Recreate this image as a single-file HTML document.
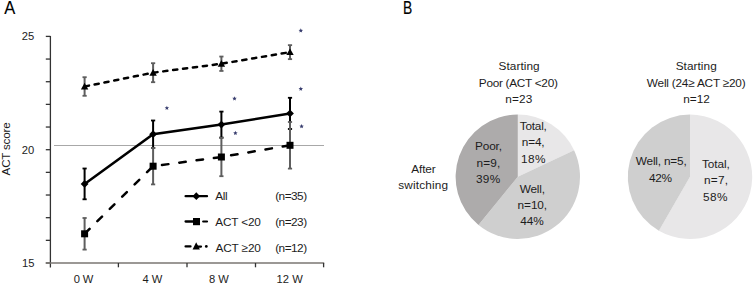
<!DOCTYPE html>
<html><head><meta charset="utf-8"><style>
html,body{margin:0;padding:0;background:#fff;}
svg{display:block;font-family:"Liberation Sans",sans-serif;}
</style></head><body>
<svg width="753" height="285" viewBox="0 0 753 285">
<rect width="753" height="285" fill="#fff"/>
<line x1="50.4" y1="36" x2="50.4" y2="267.5" stroke="#333" stroke-width="1.3"/>
<line x1="45.8" y1="36.40" x2="50.4" y2="36.40" stroke="#333" stroke-width="1.3"/>
<line x1="45.8" y1="59.06" x2="50.4" y2="59.06" stroke="#333" stroke-width="1.3"/>
<line x1="45.8" y1="81.72" x2="50.4" y2="81.72" stroke="#333" stroke-width="1.3"/>
<line x1="45.8" y1="104.38" x2="50.4" y2="104.38" stroke="#333" stroke-width="1.3"/>
<line x1="45.8" y1="127.04" x2="50.4" y2="127.04" stroke="#333" stroke-width="1.3"/>
<line x1="45.8" y1="149.70" x2="50.4" y2="149.70" stroke="#333" stroke-width="1.3"/>
<line x1="45.8" y1="172.36" x2="50.4" y2="172.36" stroke="#333" stroke-width="1.3"/>
<line x1="45.8" y1="195.02" x2="50.4" y2="195.02" stroke="#333" stroke-width="1.3"/>
<line x1="45.8" y1="217.68" x2="50.4" y2="217.68" stroke="#333" stroke-width="1.3"/>
<line x1="45.8" y1="240.34" x2="50.4" y2="240.34" stroke="#333" stroke-width="1.3"/>
<line x1="45.8" y1="263.00" x2="50.4" y2="263.00" stroke="#333" stroke-width="1.3"/>
<line x1="45.8" y1="263" x2="324.2" y2="263" stroke="#7a7672" stroke-width="1.5"/>
<line x1="118.4" y1="263" x2="118.4" y2="267.3" stroke="#333" stroke-width="1.3"/>
<line x1="187.0" y1="263" x2="187.0" y2="267.3" stroke="#333" stroke-width="1.3"/>
<line x1="255.5" y1="263" x2="255.5" y2="267.3" stroke="#333" stroke-width="1.3"/>
<line x1="323.6" y1="263" x2="323.6" y2="267.3" stroke="#333" stroke-width="1.3"/>
<line x1="54" y1="145.5" x2="324" y2="145.5" stroke="#a8a8a8" stroke-width="1.2"/>
<line x1="84.6" y1="168.5" x2="84.6" y2="199.3" stroke="#000" stroke-width="2.0"/><line x1="82.5" y1="168.5" x2="86.69999999999999" y2="168.5" stroke="#000" stroke-width="1.8"/><line x1="82.5" y1="199.3" x2="86.69999999999999" y2="199.3" stroke="#000" stroke-width="1.8"/>
<line x1="153.1" y1="120.49999999999999" x2="153.1" y2="147.89999999999998" stroke="#000" stroke-width="2.0"/><line x1="151.0" y1="120.49999999999999" x2="155.2" y2="120.49999999999999" stroke="#000" stroke-width="1.8"/><line x1="151.0" y1="147.89999999999998" x2="155.2" y2="147.89999999999998" stroke="#000" stroke-width="1.8"/>
<line x1="221.4" y1="111.6" x2="221.4" y2="137.6" stroke="#000" stroke-width="2.0"/><line x1="219.3" y1="111.6" x2="223.5" y2="111.6" stroke="#000" stroke-width="1.8"/><line x1="219.3" y1="137.6" x2="223.5" y2="137.6" stroke="#000" stroke-width="1.8"/>
<line x1="290.0" y1="97.80000000000001" x2="290.0" y2="129.0" stroke="#000" stroke-width="2.0"/><line x1="287.9" y1="97.80000000000001" x2="292.1" y2="97.80000000000001" stroke="#000" stroke-width="1.8"/><line x1="287.9" y1="129.0" x2="292.1" y2="129.0" stroke="#000" stroke-width="1.8"/>
<line x1="84.6" y1="218.0" x2="84.6" y2="249.60000000000002" stroke="#5e5e5e" stroke-width="2.0"/><line x1="82.5" y1="218.0" x2="86.69999999999999" y2="218.0" stroke="#5e5e5e" stroke-width="1.8"/><line x1="82.5" y1="249.60000000000002" x2="86.69999999999999" y2="249.60000000000002" stroke="#5e5e5e" stroke-width="1.8"/>
<line x1="153.1" y1="148.0" x2="153.1" y2="184.39999999999998" stroke="#5e5e5e" stroke-width="2.0"/><line x1="151.0" y1="148.0" x2="155.2" y2="148.0" stroke="#5e5e5e" stroke-width="1.8"/><line x1="151.0" y1="184.39999999999998" x2="155.2" y2="184.39999999999998" stroke="#5e5e5e" stroke-width="1.8"/>
<line x1="221.4" y1="137.8" x2="221.4" y2="176.2" stroke="#5e5e5e" stroke-width="2.0"/><line x1="219.3" y1="137.8" x2="223.5" y2="137.8" stroke="#5e5e5e" stroke-width="1.8"/><line x1="219.3" y1="176.2" x2="223.5" y2="176.2" stroke="#5e5e5e" stroke-width="1.8"/>
<line x1="290.0" y1="122.00000000000001" x2="290.0" y2="168.60000000000002" stroke="#5e5e5e" stroke-width="2.0"/><line x1="287.9" y1="122.00000000000001" x2="292.1" y2="122.00000000000001" stroke="#5e5e5e" stroke-width="1.8"/><line x1="287.9" y1="168.60000000000002" x2="292.1" y2="168.60000000000002" stroke="#5e5e5e" stroke-width="1.8"/>
<line x1="84.6" y1="77.2" x2="84.6" y2="95.8" stroke="#5e5e5e" stroke-width="2.0"/><line x1="82.5" y1="77.2" x2="86.69999999999999" y2="77.2" stroke="#5e5e5e" stroke-width="1.8"/><line x1="82.5" y1="95.8" x2="86.69999999999999" y2="95.8" stroke="#5e5e5e" stroke-width="1.8"/>
<line x1="153.1" y1="63.2" x2="153.1" y2="82.2" stroke="#5e5e5e" stroke-width="2.0"/><line x1="151.0" y1="63.2" x2="155.2" y2="63.2" stroke="#5e5e5e" stroke-width="1.8"/><line x1="151.0" y1="82.2" x2="155.2" y2="82.2" stroke="#5e5e5e" stroke-width="1.8"/>
<line x1="221.4" y1="56.55" x2="221.4" y2="70.95" stroke="#5e5e5e" stroke-width="2.0"/><line x1="219.3" y1="56.55" x2="223.5" y2="56.55" stroke="#5e5e5e" stroke-width="1.8"/><line x1="219.3" y1="70.95" x2="223.5" y2="70.95" stroke="#5e5e5e" stroke-width="1.8"/>
<line x1="290.0" y1="45.15" x2="290.0" y2="59.15" stroke="#5e5e5e" stroke-width="2.0"/><line x1="287.9" y1="45.15" x2="292.1" y2="45.15" stroke="#5e5e5e" stroke-width="1.8"/><line x1="287.9" y1="59.15" x2="292.1" y2="59.15" stroke="#5e5e5e" stroke-width="1.8"/>
<polyline points="84.6,183.9 153.1,134.2 221.4,124.6 290.0,113.4" fill="none" stroke="#000" stroke-width="2.5"/>
<polyline points="84.6,233.8 153.1,166.2 221.4,157.0 290.0,145.3" fill="none" stroke="#000" stroke-width="2.5" stroke-dasharray="6.5 10.95" stroke-dashoffset="-0.5" stroke-linecap="round"/>
<polyline points="84.6,86.5 153.1,72.7 221.4,63.75 290.0,52.15" fill="none" stroke="#000" stroke-width="2.5" stroke-dasharray="4.2 5.78" stroke-dashoffset="-0.25" stroke-linecap="round"/>
<path d="M84.6 180.0 L88.5 183.9 L84.6 187.8 L80.69999999999999 183.9 Z" fill="#000"/>
<path d="M153.1 130.29999999999998 L157.0 134.2 L153.1 138.1 L149.2 134.2 Z" fill="#000"/>
<path d="M221.4 120.69999999999999 L225.3 124.6 L221.4 128.5 L217.5 124.6 Z" fill="#000"/>
<path d="M290.0 109.5 L293.9 113.4 L290.0 117.30000000000001 L286.1 113.4 Z" fill="#000"/>
<rect x="81.1" y="230.3" width="7.0" height="7.0" fill="#000"/>
<rect x="149.6" y="162.7" width="7.0" height="7.0" fill="#000"/>
<rect x="217.9" y="153.5" width="7.0" height="7.0" fill="#000"/>
<rect x="286.5" y="141.8" width="7.0" height="7.0" fill="#000"/>
<path d="M84.6 82.87 L88.3 89.47 L80.89999999999999 89.47 Z" fill="#000"/>
<path d="M153.1 69.07000000000001 L156.79999999999998 75.67 L149.4 75.67 Z" fill="#000"/>
<path d="M221.4 60.12 L225.1 66.72 L217.70000000000002 66.72 Z" fill="#000"/>
<path d="M290.0 48.519999999999996 L293.7 55.12 L286.3 55.12 Z" fill="#000"/>
<polygon points="166.90,105.65 167.52,107.14 169.13,107.27 167.91,108.33 168.28,109.90 166.90,109.06 165.52,109.90 165.89,108.33 164.67,107.27 166.28,107.14" fill="#383d6e"/>
<polygon points="234.50,96.25 235.12,97.74 236.73,97.87 235.51,98.93 235.88,100.50 234.50,99.66 233.12,100.50 233.49,98.93 232.27,97.87 233.88,97.74" fill="#383d6e"/>
<polygon points="235.40,130.85 236.02,132.34 237.63,132.47 236.41,133.53 236.78,135.10 235.40,134.26 234.02,135.10 234.39,133.53 233.17,132.47 234.78,132.34" fill="#383d6e"/>
<polygon points="300.80,28.35 301.42,29.84 303.03,29.97 301.81,31.03 302.18,32.60 300.80,31.76 299.42,32.60 299.79,31.03 298.57,29.97 300.18,29.84" fill="#383d6e"/>
<polygon points="300.80,86.55 301.42,88.04 303.03,88.17 301.81,89.23 302.18,90.80 300.80,89.96 299.42,90.80 299.79,89.23 298.57,88.17 300.18,88.04" fill="#383d6e"/>
<polygon points="301.60,124.05 302.22,125.54 303.83,125.67 302.61,126.73 302.98,128.30 301.60,127.46 300.22,128.30 300.59,126.73 299.37,125.67 300.98,125.54" fill="#383d6e"/>
<line x1="185.6" y1="196.2" x2="207.0" y2="196.2" stroke="#000" stroke-width="2.3" stroke-linecap="round"/>
<path d="M196.3 192.3 L200.1 196.2 L196.3 200.1 L192.5 196.2 Z" fill="#000"/>
<line x1="185.6" y1="221.5" x2="193" y2="221.5" stroke="#000" stroke-width="2.3" stroke-linecap="round"/>
<rect x="193.0" y="218.0" width="7" height="7.2" fill="#000"/>
<line x1="203.2" y1="221.5" x2="207" y2="221.5" stroke="#000" stroke-width="2.2" stroke-linecap="round"/>
<line x1="185.6" y1="246.4" x2="190.5" y2="246.4" stroke="#000" stroke-width="2.3" stroke-linecap="round"/>
<path d="M196.2 242.3 L199.9 249.6 L192.6 249.6 Z" fill="#000"/>
<line x1="197" y1="246.6" x2="201" y2="246.6" stroke="#000" stroke-width="2.3" stroke-linecap="round"/>
<circle cx="206.3" cy="246.4" r="1.4" fill="#000"/>
<path d="M517.8 176.8 L517.80 114.60 A62.2 62.2 0 0 1 574.08 150.32 Z" fill="#e8e7e8"/>
<path d="M517.8 176.8 L574.08 150.32 A62.2 62.2 0 0 1 478.49 225.00 Z" fill="#cfcfcf"/>
<path d="M517.8 176.8 L478.49 225.00 A62.2 62.2 0 0 1 517.80 114.60 Z" fill="#adabab"/>
<path d="M690 176.8 L690.00 114.60 A62.2 62.2 0 1 1 658.90 230.67 Z" fill="#e8e7e8"/>
<path d="M690 176.8 L658.90 230.67 A62.2 62.2 0 0 1 690.00 114.60 Z" fill="#cfcfcf"/>
<text x="21.85" y="40.4" font-size="11.2" fill="#1c1c1c" textLength="12.316" lengthAdjust="spacing">25</text>
<text x="21.85" y="153.7" font-size="11.2" fill="#1c1c1c" textLength="12.308" lengthAdjust="spacing">20</text>
<text x="22.00" y="266.7" font-size="11.2" fill="#1c1c1c" textLength="12.502" lengthAdjust="spacing">15</text>
<text x="73.66" y="282.9" font-size="11.2" fill="#1c1c1c" textLength="19.570" lengthAdjust="spacing">0 W</text>
<text x="142.55" y="282.9" font-size="11.2" fill="#1c1c1c" textLength="19.653" lengthAdjust="spacing">4 W</text>
<text x="209.10" y="282.9" font-size="11.2" fill="#1c1c1c" textLength="19.738" lengthAdjust="spacing">8 W</text>
<text x="276.50" y="282.9" font-size="11.2" fill="#1c1c1c" textLength="26.329" lengthAdjust="spacing">12 W</text>
<text x="215.16" y="199.8" font-size="11.8" fill="#1c1c1c" textLength="12.535" lengthAdjust="spacing">All</text>
<text x="215.26" y="225.7" font-size="11.8" fill="#1c1c1c" textLength="45.556" lengthAdjust="spacing">ACT &lt;20</text>
<text x="215.46" y="251.7" font-size="11.8" fill="#1c1c1c" textLength="45.409" lengthAdjust="spacing">ACT ≥20</text>
<text x="275.16" y="199.8" font-size="11.8" fill="#1c1c1c" textLength="31.931" lengthAdjust="spacing">(n=35)</text>
<text x="275.16" y="225.7" font-size="11.8" fill="#1c1c1c" textLength="31.931" lengthAdjust="spacing">(n=23)</text>
<text x="275.16" y="251.7" font-size="11.8" fill="#1c1c1c" textLength="31.931" lengthAdjust="spacing">(n=12)</text>
<text x="498.46" y="70.3" font-size="11.8" fill="#1c1c1c" textLength="41.190" lengthAdjust="spacing">Starting</text>
<text x="478.82" y="86.8" font-size="11.8" fill="#1c1c1c" textLength="79.027" lengthAdjust="spacing">Poor (ACT &lt;20)</text>
<text x="505.26" y="103.0" font-size="11.8" fill="#1c1c1c" textLength="26.971" lengthAdjust="spacing">n=23</text>
<text x="675.66" y="70.3" font-size="11.8" fill="#1c1c1c" textLength="41.032" lengthAdjust="spacing">Starting</text>
<text x="646.86" y="86.8" font-size="11.8" fill="#1c1c1c" textLength="98.783" lengthAdjust="spacing">Well (24≥ ACT ≥20)</text>
<text x="683.26" y="103.0" font-size="11.8" fill="#1c1c1c" textLength="26.564" lengthAdjust="spacing">n=12</text>
<text x="411.26" y="173.3" font-size="11.8" fill="#1c1c1c" textLength="24.408" lengthAdjust="spacing">After</text>
<text x="398.25" y="188.9" font-size="11.8" fill="#1c1c1c" textLength="49.768" lengthAdjust="spacing">switching</text>
<text x="474.92" y="150.4" font-size="11.8" fill="#1c1c1c" textLength="27.119" lengthAdjust="spacing">Poor,</text>
<text x="476.46" y="166.5" font-size="11.8" fill="#1c1c1c" textLength="23.930" lengthAdjust="spacing">n=9,</text>
<text x="475.89" y="183.3" font-size="11.8" fill="#1c1c1c" textLength="24.262" lengthAdjust="spacing">39%</text>
<text x="519.81" y="129.9" font-size="11.8" fill="#1c1c1c" textLength="27.077" lengthAdjust="spacing">Total,</text>
<text x="521.76" y="146.3" font-size="11.8" fill="#1c1c1c" textLength="22.866" lengthAdjust="spacing">n=4,</text>
<text x="521.06" y="162.7" font-size="11.8" fill="#1c1c1c" textLength="24.499" lengthAdjust="spacing">18%</text>
<text x="519.66" y="192.8" font-size="11.8" fill="#1c1c1c" textLength="25.474" lengthAdjust="spacing">Well,</text>
<text x="517.56" y="208.8" font-size="11.8" fill="#1c1c1c" textLength="29.587" lengthAdjust="spacing">n=10,</text>
<text x="520.14" y="224.8" font-size="11.8" fill="#1c1c1c" textLength="23.559" lengthAdjust="spacing">44%</text>
<text x="635.76" y="165.1" font-size="11.8" fill="#1c1c1c" textLength="50.970" lengthAdjust="spacing">Well, n=5,</text>
<text x="649.04" y="181.6" font-size="11.8" fill="#1c1c1c" textLength="23.042" lengthAdjust="spacing">42%</text>
<text x="702.01" y="168.1" font-size="11.8" fill="#1c1c1c" textLength="27.744" lengthAdjust="spacing">Total,</text>
<text x="704.06" y="183.9" font-size="11.8" fill="#1c1c1c" textLength="24.006" lengthAdjust="spacing">n=7,</text>
<text x="703.08" y="201.4" font-size="11.8" fill="#1c1c1c" textLength="24.494" lengthAdjust="spacing">58%</text>
<text x="0" y="0" transform="translate(4.2,13.6) scale(0.92,1)" font-size="18" fill="#000" stroke="#000" stroke-width="0.1">A</text>
<text x="0" y="0" transform="translate(403.0,13.6) scale(0.77,1)" font-size="18" fill="#000" stroke="#000" stroke-width="0.15">B</text>
<text x="0" y="0" transform="translate(10.2,148.9) rotate(-90)" text-anchor="middle" font-size="11.6" textLength="53" lengthAdjust="spacing" fill="#1a1a1a">ACT score</text>
</svg></body></html>
